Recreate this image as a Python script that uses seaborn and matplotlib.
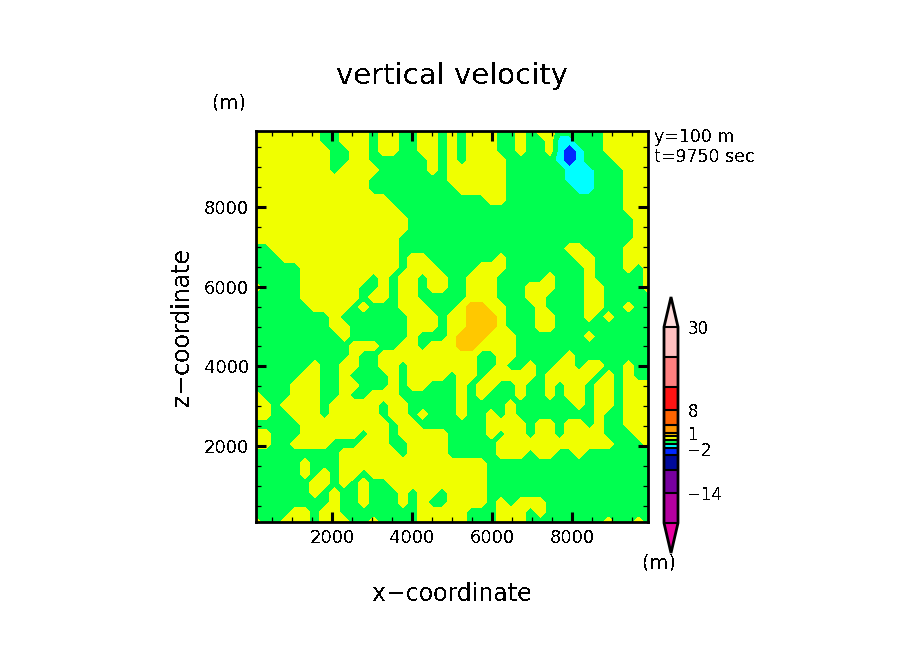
import numpy as np
import matplotlib
matplotlib.use("Agg")
import matplotlib.pyplot as plt
from matplotlib.colors import BoundaryNorm, ListedColormap
from matplotlib.transforms import ScaledTranslation
import seaborn as sns

# contour classes, top row first, x going right
# . green  y yellow  o orange  c cyan  b blue
w_rows = [
    "yyyyyyy..yyy.yy..yy." "y.yyy..y.yy.....yyyyy",
    "yyyyyyy..yyy.yy..yy." "y.yyy..y..ycc...yyyyy",
    "yyyyyyyy..yy.yy..yy." "y.yyy..y..ycbc..yyyyy",
    "yyyyyyyy..yy......y." "y.yyyy.....cbc...yyyy",
    "yyyyyyyy.yyyy.....y." "yyyyyy......ccc...yyy",
    "yyyyyyyyyyyy........" "yyyyyy......ccc...yyy",
    "yyyyyyyyyyyy........" ".yyyyy.......cc...yyy",
    "yyyyyyyyyyyyyy......" "....yy............yyy",
    "yyyyyyyyyyyyyyy....." "..................yyy",
    "yyyyyyyyyyyyyyyy...." "...................yy",
    "yyyyyyyyyyyyyyyy...." "...................yy",
    "yyyyyyyyyyyyyyy....." "...................yy",
    "..yyyyyyyyyyyyy....." "............yy....yyy",
    "...yyyyyyyyyyyy.yy.." ".....y.......yy...yyy",
    ".....yyyyyyyyyy.yyy." "...yyy........y...y.y",
    ".....yyyyyyy.y.yy.yy" "..yyy.....y...y.....y",
    "y....yyyyyy..y.yy.yy" "..yyy...yyy...yy....y",
    ".....yyyyyy.yy.yy..." "..yyy...yy....yy.....",
    "......yyyy.y...yyy.." ".yooyy...y....yy..y..",
    "........y.......yyy." "yyoooy...yy...y.y....",
    "........yy......yyy." "yyoooy...yy..........",
    ".........y......y..." "yoooyyy.......y......",
    "..........yyy..yy.yy" "yooyyyy..............",
    "..........y..yyyyyyy" "yyy..yy.....y........",
    "......y..yy..yy.yyyy" "yyy..y..y..yy.yy..y..",
    ".....yy..y....y.yyyy" ".yy.yyyyy.yyyyy.y.y..",
    "....yyy..yy...y.yy.." ".y.yy..y..y.yy.yy.yyy",
    "y...yyy..y..yyy....." ".y.y...y..y.yy.yy.yyy",
    "yy.yyyy.yyyyy.yy...." ".y....y......y.yy.yyy",
    "yy..yyy.yyyyy.yy.y.." ".y..y.y........y..yyy",
    ".....yyyyyyyyy.yy..." "....yyyy.yy.yy.y..yyy",
    "yy...yyyyyy.yy.yyyyy" "....y.yy.yy.yyyy...yy",
    "yy..yyyy...yyy..yyyy" ".....yyyyyyyyyyyy...y",
    ".........yyyyyy.yyyy" ".....yyy.yy..y.......",
    ".....y...yyyyyyyyyyy" "yyyy.................",
    ".....y.y.yy.yyyyyyyy" "yyyy.................",
    "......yy.y.y..yyyyyy" "yyyy.................",
    "......y.y..y...y.yy." "yyyy.................",
    "........y..y...y.y.." "yyyy.y.yyy...........",
    "....yy.yy........yyy" "yy...yyy.y...........",
    "y..yyy.yyy..y....yyy" "yy...yyy........y..y.",
]
class_values = {".": -0.5, "y": 0.5, "o": 1.5, "c": -1.5, "b": -3.0}

levels = [-22, -14, -8, -4, -2, -1, 0, 1, 2, 4, 8, 14, 22, 30]
colors = ["#b400a0", "#7800a0", "#000a9b", "#0028ff", "#00ffff", "#00ff50",
          "#f0ff00", "#ffc800", "#ff9600", "#ff6400", "#ff1414", "#ff8080", "#ffbfbf"]
under_color = "#e600a0"
over_color = "#ffdcdc"
cbar_ticks = [-14, -2, 1, 8, 30]
axis_ticks = [2000, 4000, 6000, 8000]

sns.set_theme(style="ticks")
plt.rcParams["font.family"] = ["DejaVu Sans"]
plt.rcParams["text.antialiased"] = False

z = np.array([[class_values[c] for c in row] for row in w_rows])
x = np.linspace(100, 9900, z.shape[1])
y = np.linspace(9900, 100, z.shape[0])

W, H = 904, 654
fig = plt.figure(figsize=(W / 100, H / 100), dpi=100, facecolor="white")
ax = fig.add_axes([256 / W, 1 - 522 / H, 392 / W, 391 / H])

cmap = ListedColormap(sns.color_palette(colors))
cmap.set_under(under_color)
cmap.set_over(over_color)
cs = ax.contourf(x, y, z, levels=levels, cmap=cmap,
                 norm=BoundaryNorm(levels, cmap.N), extend="both")

ax.set_axisbelow(False)
ax.set_xlim(100, 9900)
ax.set_ylim(100, 9900)
ax.set_xticks(axis_ticks)
ax.set_yticks(axis_ticks)
ax.set_xticks(np.arange(500, 10000, 500), minor=True)
ax.set_yticks(np.arange(500, 10000, 500), minor=True)
ax.tick_params(which="major", direction="in", length=7.2, width=2.2, top=True, right=True,
               labelsize=13, colors="black", pad=5)
ax.tick_params(which="minor", direction="in", length=3.6, width=0.9, top=True, right=True, color="black")
for side in ax.spines.values():
    side.set_linewidth(2)
    side.set_color("black")
sns.despine(ax=ax, top=False, right=False)

ax.set_xlabel("x\u2212coordinate", fontsize=17, labelpad=25, color="black")
ax.set_ylabel("z\u2212coordinate", fontsize=17, labelpad=7, color="black")

fig.text(452 / W, 1 - 76 / H, "vertical velocity", fontsize=21, ha="center", va="center", color="black")
fig.text(229 / W, 1 - 103 / H, "(m)", fontsize=14, ha="center", va="center", color="black")
fig.text(654 / W, 1 - 137 / H, "y=100 m", fontsize=12.5, ha="left", va="center", color="black")
fig.text(654 / W, 1 - 157 / H, "t=9750 sec", fontsize=12.5, ha="left", va="center", color="black")
fig.text(659 / W, 1 - 563 / H, "(m)", fontsize=14, ha="center", va="center", color="black")

cax = fig.add_axes([664 / W, 1 - 553 / H, 14 / W, 256 / H])
cbar = fig.colorbar(cs, cax=cax, spacing="proportional", extend="both", extendfrac=0.153,
                    drawedges=True, ticks=cbar_ticks)
cbar.outline.set_linewidth(2)
cbar.outline.set_edgecolor("black")
cbar.dividers.set_linewidth(1.5)
cbar.dividers.set_color("black")
cbar.ax.tick_params(length=0, labelsize=12, pad=7, colors="black")
cbar.ax.minorticks_off()
# the 1 and -2 labels sit very close, pull them apart a bit
one_label = cbar.ax.get_yticklabels()[cbar_ticks.index(1)]
one_label.set_transform(one_label.get_transform() + ScaledTranslation(0, 2.5 / 72, fig.dpi_scale_trans))
two_label = cbar.ax.get_yticklabels()[cbar_ticks.index(-2)]
two_label.set_transform(two_label.get_transform() + ScaledTranslation(0, -1 / 72, fig.dpi_scale_trans))

fig.savefig("out.png", dpi=100)
